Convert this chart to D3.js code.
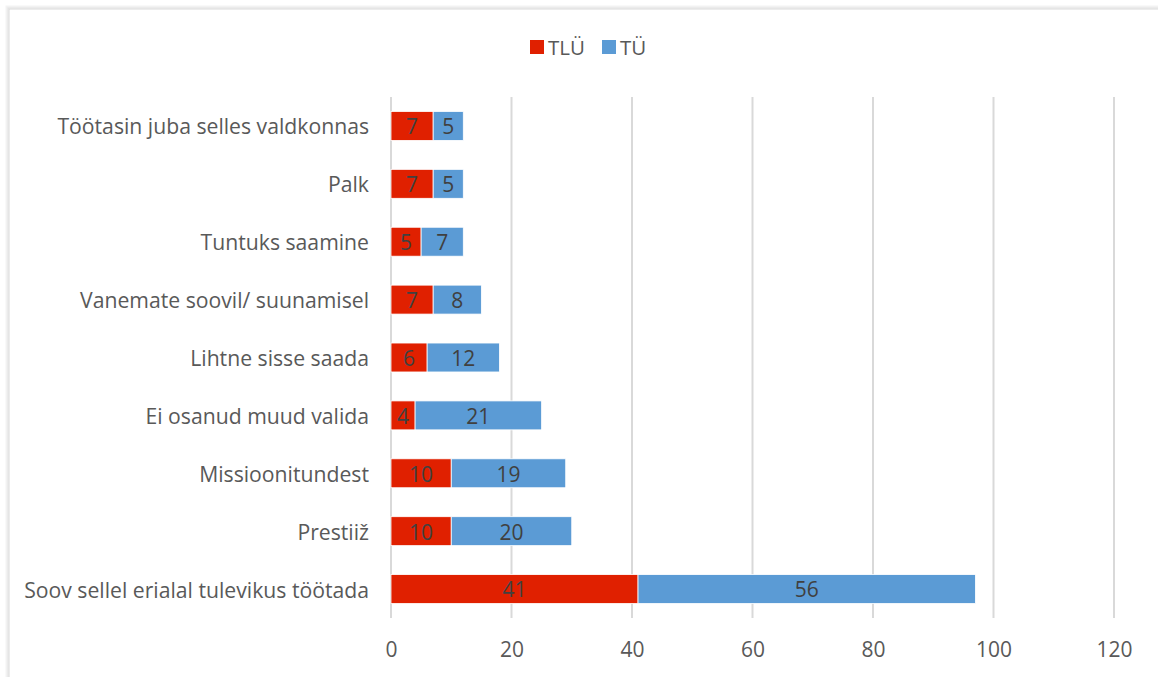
<!DOCTYPE html>
<html>
<head>
<meta charset="utf-8">
<script src="https://cdn.jsdelivr.net/npm/d3@7"></script>
<style>
  body { margin: 0; background: #fff; }
  svg { display: block; font-family: "Open Sans", "Noto Sans", sans-serif; }
</style>
</head>
<body>
<svg id="chart" width="1158" height="677"></svg>
<script>
var categories = ["Töötasin juba selles valdkonnas", "Palk", "Tuntuks saamine", "Vanemate soovil/ suunamisel",
  "Lihtne sisse saada", "Ei osanud muud valida", "Missioonitundest", "Prestiiž", "Soov sellel erialal tulevikus töötada"];
var tlu = [7, 7, 5, 7, 6, 4, 10, 10, 41];
var tu = [5, 5, 7, 8, 12, 21, 19, 20, 56];
var seriesNames = ["TLÜ", "TÜ"];
var xTicks = [0, 20, 40, 60, 80, 100, 120];

var colors = ["#e02000", "#5b9bd5"];
var textColor = "#595959";

var svg = d3.select("#chart");

// frame with soft shadow
var shades = ["#f4f4f4", "#ececec", "#e2e2e2", "#d9d9d9"];
shades.forEach(function(c, i) {
  svg.append("rect")
    .attr("x", 6 + i).attr("y", 6 + i)
    .attr("width", 1200).attr("height", 800)
    .attr("fill", "none").attr("stroke", c).attr("stroke-width", 1);
});
svg.append("rect").attr("x", 10).attr("y", 10).attr("width", 1200).attr("height", 800).attr("fill", "#fff");

var plotLeft = 391, plotRight = 1114, plotTop = 97, plotBottom = 618;

var x = d3.scaleLinear().domain([0, 120]).range([plotLeft, plotRight]);
var y = d3.scaleBand().domain(categories).range([plotTop, plotBottom]).paddingInner(0.5).paddingOuter(0.25);

// gridlines
svg.append("g").selectAll("line").data(xTicks).join("line")
  .attr("x1", d => x(d)).attr("x2", d => x(d))
  .attr("y1", plotTop).attr("y2", plotBottom)
  .attr("stroke", "#d9d9d9").attr("stroke-width", 2);

// x axis labels
var xAxis = d3.axisBottom(x).tickValues(xTicks).tickSize(0).tickPadding(0);
var gx = svg.append("g").attr("transform", "translate(0," + 641 + ")").call(xAxis);
gx.select(".domain").remove();
gx.attr("font-family", null).attr("font-size", null);
gx.selectAll("text").attr("fill", textColor).style("font-size", "21px").attr("dy", "0.75em");

// y axis labels
var yAxis = d3.axisLeft(y).tickSize(0).tickPadding(22);
var gy = svg.append("g").attr("transform", "translate(" + plotLeft + ",0)").call(yAxis);
gy.select(".domain").remove();
gy.attr("font-family", null).attr("font-size", null);
gy.selectAll("text").attr("fill", textColor).style("font-size", "21.2px").attr("dy", "0.4em");

// stacked bars
var rows = categories.map(function(c, i) { return { cat: c, TLU: tlu[i], TU: tu[i] }; });
var stack = d3.stack().keys(["TLU", "TU"])(rows);

var layers = svg.append("g").selectAll("g").data(stack).join("g")
  .attr("fill", (d, i) => colors[i]);

layers.selectAll("rect").data(d => d).join("rect")
  .attr("x", d => x(d[0]))
  .attr("y", d => y(d.data.cat))
  .attr("width", d => x(d[1]) - x(d[0]))
  .attr("height", y.bandwidth())
  .attr("stroke", "#fff").attr("stroke-width", 0.8);

layers.selectAll("text").data(d => d).join("text")
  .attr("x", d => (x(d[0]) + x(d[1])) / 2)
  .attr("y", d => y(d.data.cat) + y.bandwidth() / 2)
  .attr("dy", "0.4em")
  .attr("text-anchor", "middle")
  .attr("fill", "#404040")
  .style("font-size", "21px")
  .text(d => d[1] - d[0]);

// legend
var legend = svg.append("g").attr("transform", "translate(530,40)");
var lx = [0, 72];
seriesNames.forEach(function(n, i) {
  legend.append("rect").attr("x", lx[i]).attr("y", 0).attr("width", 14).attr("height", 14).attr("fill", colors[i]);
  legend.append("text").attr("x", lx[i] + 18).attr("y", 7).attr("dy", "0.38em")
    .attr("fill", textColor).style("font-size", "20.5px").text(n);
});
</script>
</body>
</html>
